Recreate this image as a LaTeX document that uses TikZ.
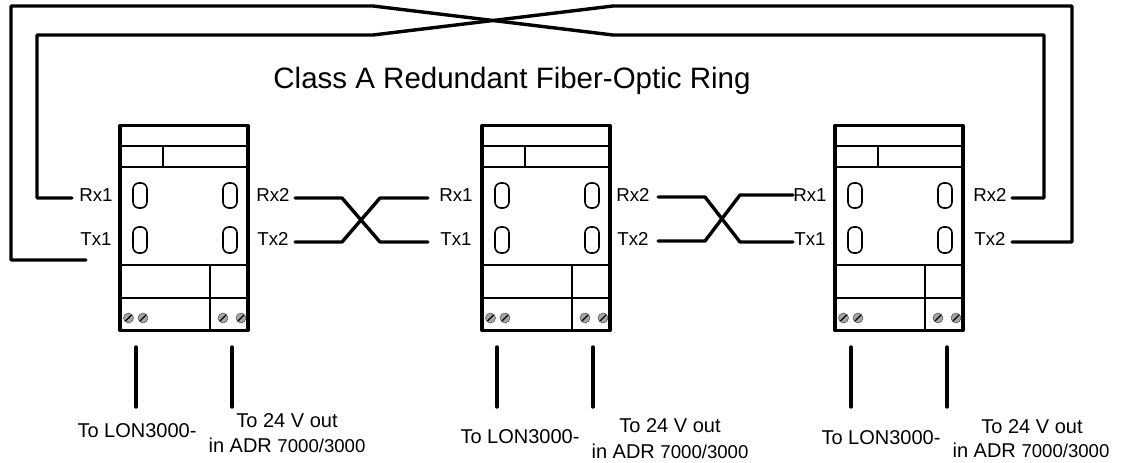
\documentclass[tikz,border=0pt]{standalone}
\usepackage{fontspec}
\setmainfont{Liberation Sans}
\tikzset{
  x=1pt,y=-1pt,
  wire/.style={draw=black,line width=3.4pt,line join=round,line cap=round},
  case/.style={draw=black,line width=3.6pt,line join=round},
  thin part/.style={draw=black,line width=1.9pt},
  slot/.style={draw=black,line width=1.6pt,rounded corners=6pt},
  screw/.style={circle,inner sep=0pt,minimum size=10pt,fill=gray!70,draw=gray!60!black,line width=.5pt},
  port/.style={inner sep=0pt,font=\fontsize{18.7}{22}\selectfont},
  note/.style={inner sep=0pt,font=\fontsize{20}{24}\selectfont},
  title/.style={inner sep=0pt,font=\fontsize{29.5}{34}\selectfont},
}
\newcommand{\device}[2]{%
 \begin{scope}[shift={(#1,0)}]
  \node[inner sep=0pt,minimum width=128pt,minimum height=205pt,case] (#2) at (64,228) {};
  \draw[thin part] (0,146)--(128,146);
  \draw[thin part] (0,167)--(128,167);
  \draw[thin part] (43,146)--(43,167);
  \draw[thin part] (0,265)--(128,265);
  \draw[thin part] (0,298)--(128,298);
  \draw[thin part] (90,265)--(90,330);
  \draw[slot] (13,183) rectangle (27,208);
  \draw[slot] (13,227) rectangle (27,253);
  \draw[slot] (103,183) rectangle (117,208);
  \draw[slot] (103,227) rectangle (117,253);
  \foreach \sx in {8.5,23,103,121}{
    \node[screw] (#2s\sx) at (\sx,318) {};
    \draw[black,line width=1.1pt] ([shift={(-3,3)}]\sx,318) -- ([shift={(3,-3)}]\sx,318);
  }
 \end{scope}}
\begin{document}
\begin{tikzpicture}
\useasboundingbox (0,0) rectangle (1125,463);
\fill[white] (0,0) rectangle (1125,463);
\device{120}{A}
\device{482}{B}
\device{835}{C}
\node[title] (ttl) at (512,81) {Class A Redundant Fiber-Optic Ring};
% port labels
\foreach \d/\lx/\rx in {A/96/273,B/456/633,C/810/990}{
  \node[port] (\d rx1) at (\lx,195) {Rx1};
  \node[port] (\d tx1) at (\lx,239) {Tx1};
  \node[port] (\d rx2) at (\rx,195) {Rx2};
  \node[port] (\d tx2) at (\rx,239) {Tx2};
}
% ring wires
\coordinate (a1) at (86,260);
\coordinate (a2) at (72,198);
\coordinate (c1) at (1012,198);
\coordinate (c2) at (1012,242);
\draw[wire] (a1) -- (11,260) -- (11,6) -- (373,6) -- (613,35) -- (1044,35) -- (1044,198) -- (c1);
\draw[wire] (a2) -- (37,198) -- (37,35) -- (373,35) -- (613,6) -- (1072,6) -- (1072,242) -- (c2);
% crossovers
\coordinate (p1) at (295,198); \coordinate (p2) at (295,242);
\coordinate (q1) at (428,198); \coordinate (q2) at (428,242);
\coordinate (r1) at (658,197); \coordinate (r2) at (658,241);
\coordinate (s1) at (793,195); \coordinate (s2) at (793,242);
\draw[wire] (p1) -- (342,198) -- (380,242) -- (q2);
\draw[wire] (p2) -- (342,242) -- (380,198) -- (q1);
\draw[wire] (r1) -- (705,197) -- (740,242) -- (s2);
\draw[wire] (r2) -- (705,241) -- (740,195) -- (s1);
% lower stubs
\foreach \n/\x/\ya/\yb in {l1/136/347/407,l2/232/347/407,l3/497/347/407,l4/593/347/407,l5/851/347/407,l6/947/347/407}{
  \coordinate (\n t) at (\x,\ya);
  \coordinate (\n b) at (\x,\yb);
  \draw[wire] (\n t) -- (\n b);
}
% notes
\foreach \n/\xa/\ya/\xb/\yb/\xc/\yc in {a/137/431/287/421/287/445,b/520/437/670/426/670/451,c/881/438/1032/427/1031/450}{
  \node[note] (\n lon) at (\xa,\ya) {To LON3000-};
  \node[note] (\n out) at (\xb,\yb) {To 24 V out};
  \node[note] (\n adr) at (\xc,\yc) {in ADR {\fontsize{18.6}{22}\selectfont 7000/3000}};
}
\end{tikzpicture}
\end{document}
